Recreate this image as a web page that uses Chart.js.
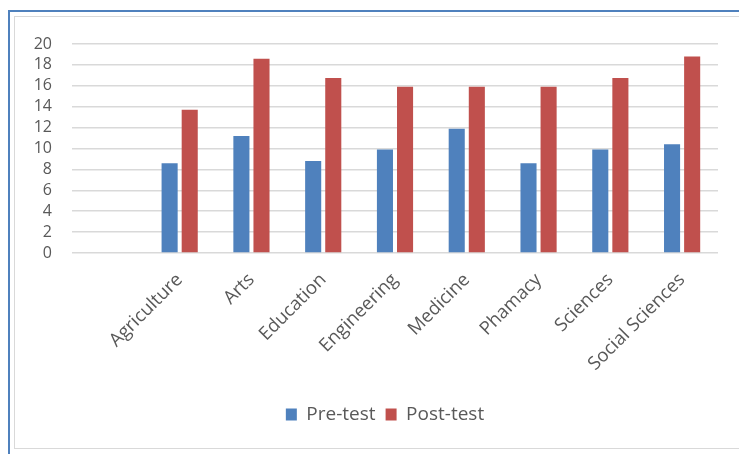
<!DOCTYPE html>
<html>
<head>
<meta charset="utf-8">
<script src="https://cdn.jsdelivr.net/npm/chart.js@4"></script>
<style>
    html, body { margin: 0; padding: 0; background: #fff; }
    #page { position: relative; width: 739px; height: 454px; overflow: hidden; }
    #outer { position: absolute; left: 8px; top: 10px; width: 760px; height: 460px;
             border-left: 2px solid #4f81bd; border-top: 2px solid #4f81bd; }
    #inner { position: absolute; left: 14px; top: 16px; width: 760px; height: 431px;
             border: 1px solid #d9d9d9; }
    canvas { position: absolute; left: 0; top: 0; }
</style>
</head>
<body>
<div id="page">
    <div id="outer"></div>
    <div id="inner"></div>
    <canvas id="chart" width="739" height="454"></canvas>
</div>
<script>
// first category is blank in the source chart
const categories = ['', 'Agriculture', 'Arts', 'Education', 'Engineering', 'Medicine', 'Phamacy', 'Sciences', 'Social Sciences'];
const preTest = [null, 8.6, 11.2, 8.8, 9.9, 11.9, 8.6, 9.9, 10.4];
const postTest = [null, 13.7, 18.6, 16.75, 15.9, 15.9, 15.9, 16.75, 18.8];
const yTicks = [0, 2, 4, 6, 8, 10, 12, 14, 16, 18, 20];

const font = "'Open Sans', sans-serif";
const grey = '#595959';

// the source legend sits a little right of the canvas centre
const shiftLegend = {
    id: 'shiftLegend',
    afterLayout(chart) {
        chart.legend.left += 26;
        chart.legend.right += 26;
    },
};

new Chart(document.getElementById('chart'), {
    type: 'bar',
    data: {
        labels: categories,
        datasets: [
            { label: 'Pre-test', data: preTest, backgroundColor: '#4f81bd' },
            { label: 'Post-test', data: postTest, backgroundColor: '#c0504d' },
        ],
    },
    options: {
        responsive: false,
        animation: false,
        barPercentage: 0.8,
        categoryPercentage: 0.56,
        layout: {
            padding: { top: 44, right: 21, bottom: 20, left: 0 },
        },
        scales: {
            x: {
                grid: { display: false },
                border: { display: false },
                ticks: {
                    color: grey,
                    font: { family: font, size: 18.5 },
                    maxRotation: 45,
                    minRotation: 45,
                    autoSkip: false,
                    padding: 8,
                },
                afterFit: (scale) => { scale.height = 142; },
            },
            y: {
                min: 0,
                max: 20,
                afterBuildTicks: (scale) => {
                    scale.ticks = yTicks.map(v => ({ value: v }));
                },
                grid: { color: '#d9d9d9', lineWidth: 1.5, drawTicks: false },
                border: { display: false },
                ticks: {
                    color: grey,
                    font: { family: font, size: 16 },
                    autoSkip: false,
                    padding: 20,
                },
                afterFit: (scale) => { scale.width = 72; },
            },
        },
        plugins: {
            legend: {
                position: 'bottom',
                labels: {
                    color: grey,
                    font: { family: font, size: 19 },
                    boxWidth: 11,
                    boxHeight: 12,
                    padding: 10,
                },
            },
            tooltip: { enabled: false },
        },
    },
    plugins: [shiftLegend],
});
</script>
</body>
</html>
